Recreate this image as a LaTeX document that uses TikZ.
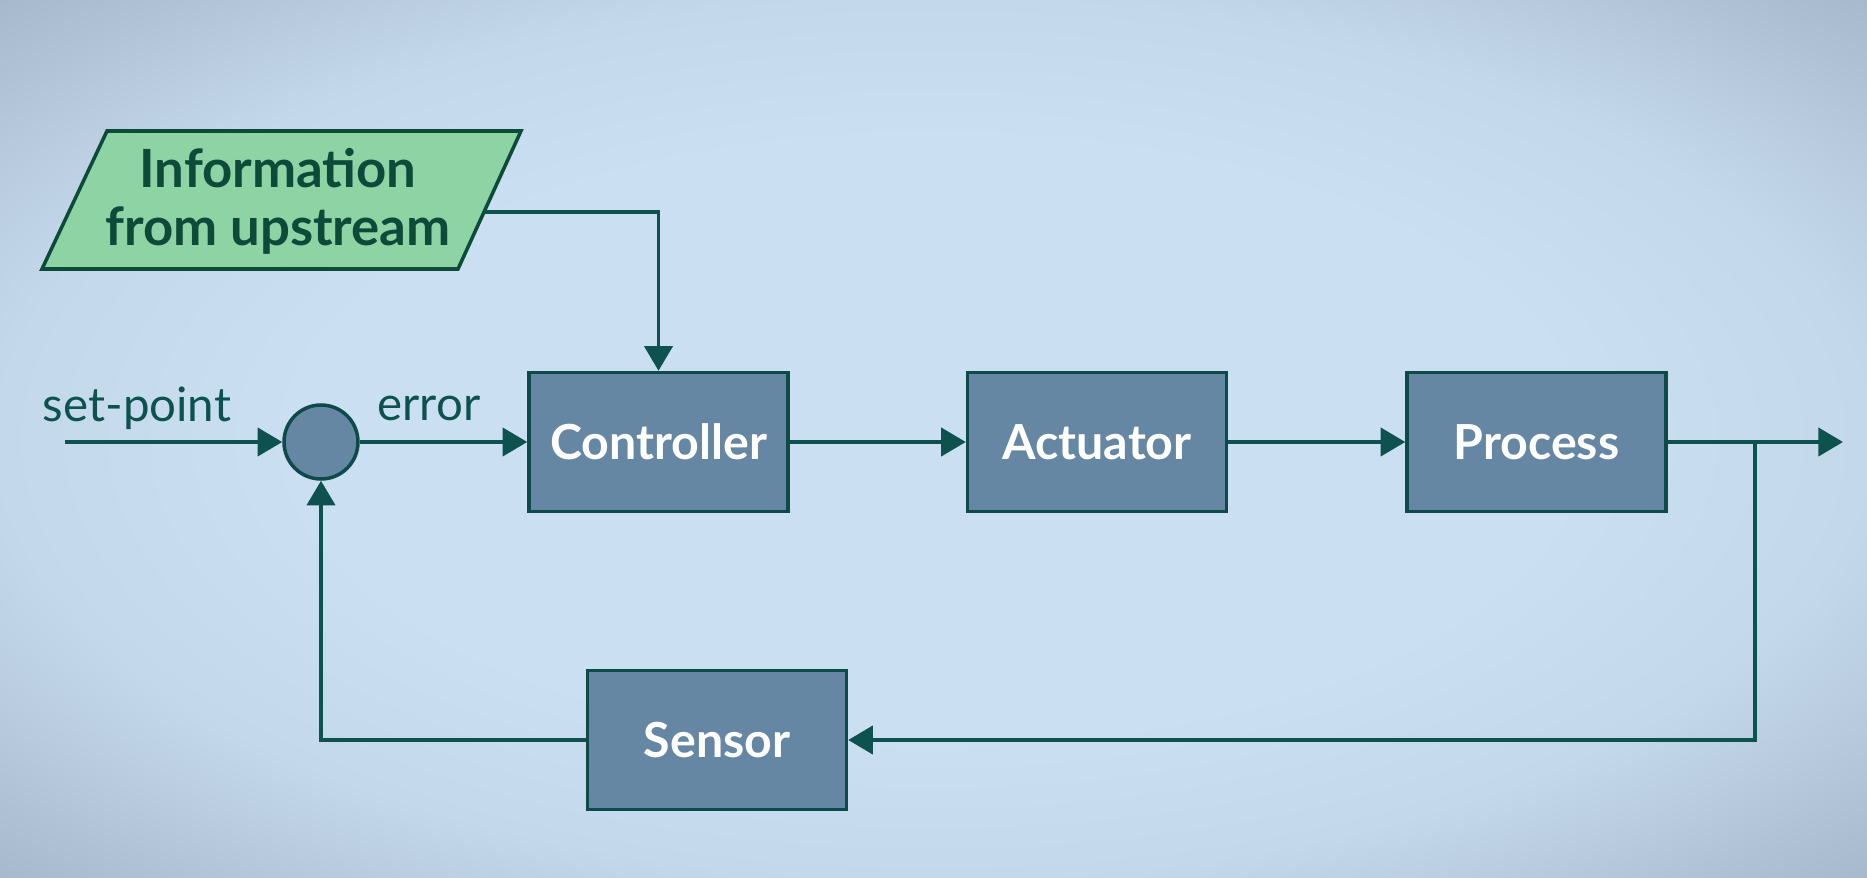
\documentclass[tikz,border=0pt]{standalone}
\usepackage{fontspec}
\setmainfont{Lato}
\usetikzlibrary{arrows.meta,positioning,shapes.geometric}
\definecolor{bgblue}{HTML}{CADFF2}
\definecolor{bgmid}{HTML}{C4D8EC}
\definecolor{bgedge}{HTML}{A5B7CA}
\definecolor{boxfill}{HTML}{6687A4}
\definecolor{boxline}{HTML}{0E4A4A}
\definecolor{wire}{HTML}{0D524E}
\definecolor{infofill}{HTML}{8ED3A3}
\definecolor{infotext}{HTML}{0E4A3A}
\pgfdeclareradialshading{vignette}{\pgfpoint{0bp}{0bp}}{%
  color(0bp)=(bgblue); color(17bp)=(bgblue); color(25bp)=(bgmid); color(36bp)=(bgedge); color(50bp)=(bgedge)}

\begin{document}
\begin{tikzpicture}[x=0.02cm,y=-0.02cm,
    block/.style={draw=boxline, line width=2pt, fill=boxfill, text=white,
      minimum width=5.18cm, minimum height=2.78cm, font=\fontsize{27.5}{32}\selectfont\bfseries},
    wire/.style={draw=wire, line width=2.1pt},
    arr/.style={-{Triangle[length=14pt,width=16pt]}},
    lbl/.style={text=wire, font=\fontsize{27}{32}\selectfont}]
    \useasboundingbox (0,0) rectangle (1867,878);
    \shade[shading=vignette] (0,0) rectangle (1867,878);
    % input box
    \draw[draw=infotext, line width=2pt, fill=infofill] (107,131) -- (521,131) -- (458,269) -- (42,269) -- cycle;
    \node[text=infotext, align=center, font=\fontsize{30}{33}\selectfont\bfseries] (info) at (278,201) {Information\\from upstream};
    \coordinate (infoout) at (485,212);
    % blocks
    \node[block] (ctrl) at (658.5,442) {Controller};
    \node[block] (act) at (1097,442) {Actuator};
    \node[block] (proc) at (1536.5,442) {Process};
    \node[block] (sens) at (717,740) {Sensor};
    \node[circle, draw=boxline, line width=2pt, fill=boxfill, minimum size=1.48cm] (sum) at (321,442) {};
    \coordinate (in) at (65,442);
    \coordinate (out) at (1843,442);
    \coordinate (branch) at (1755,442);
    % labels
    \node[lbl] (sp) at (137,408) {set-point};
    \node[lbl] (err) at (429,408) {error};
    % connectors
    \draw[wire, arr] (in) -- (sum.west);
    \draw[wire, arr] (sum.east) -- (ctrl.west);
    \draw[wire, arr] (ctrl.east) -- (act.west);
    \draw[wire, arr] (act.east) -- (proc.west);
    \draw[wire, arr] (proc.east) -- (out);
    \draw[wire, arr] (branch) -- (branch |- sens.east) -- (sens.east);
    \draw[wire, arr] (sens.west) -- (sum |- sens.west) -- (sum.south);
    \draw[wire, arr] (infoout) -| (ctrl.north);
\end{tikzpicture}
\end{document}
